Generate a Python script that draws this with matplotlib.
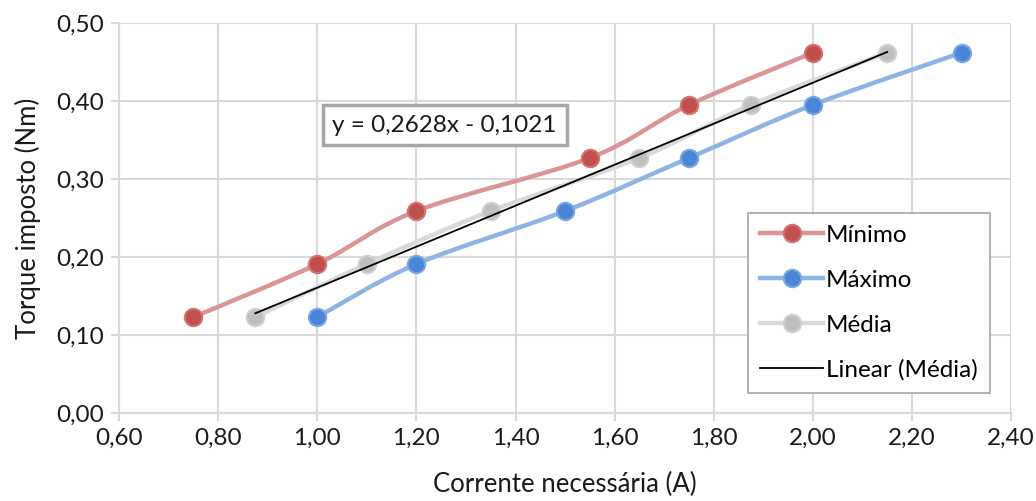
import numpy as np
import matplotlib
matplotlib.use('Agg')
import matplotlib.pyplot as plt
from matplotlib.path import Path
from matplotlib.patches import PathPatch
from matplotlib.lines import Line2D

torque = [0.123, 0.191, 0.259, 0.327, 0.395, 0.462]
corr_min = [0.75, 1.00, 1.20, 1.55, 1.75, 2.00]
corr_max = [1.00, 1.20, 1.50, 1.75, 2.00, 2.30]
corr_med = [0.875, 1.10, 1.35, 1.65, 1.875, 2.15]
fit_a = 0.2628
fit_b = -0.1021
xticks = [0.6, 0.8, 1.0, 1.2, 1.4, 1.6, 1.8, 2.0, 2.2, 2.4]
yticks = [0.0, 0.1, 0.2, 0.3, 0.4, 0.5]

plt.rcParams['font.family'] = ['Lato', 'DejaVu Sans']
GRID = '#d9d9d9'
TXT = '#1a1a1a'


def smooth_path(x, y):
    # Excel-like smoothed line: Catmull-Rom segments as cubic Beziers
    p = np.column_stack([x, y])
    n = len(p)
    verts = [p[0]]
    codes = [Path.MOVETO]
    for i in range(n - 1):
        p0 = p[i - 1] if i > 0 else p[i]
        p3 = p[i + 2] if i + 2 < n else p[i + 1]
        c1 = p[i] + (p[i + 1] - p0) / 6
        c2 = p[i + 1] - (p3 - p[i]) / 6
        verts += [c1, c2, p[i + 1]]
        codes += [Path.CURVE4] * 3
    return Path(verts, codes)


fig = plt.figure(figsize=(10.36, 5.01), dpi=100)
ax = fig.add_axes([0.1149, 0.1756, 0.8611, 0.7784])

series = [
    ('Mínimo', corr_min, '#d99694', '#c0504d', '#d37370'),
    ('Máximo', corr_max, '#8eb4e3', '#4a86d6', '#7aa7e3'),
    ('Média', corr_med, '#d9d9d9', '#bfbfbf', '#d0d0d0'),
]
handles = []
for name, xs, lc, mc, ec in series:
    patch = PathPatch(smooth_path(xs, torque), facecolor='none', edgecolor=lc,
                      lw=3.2, zorder=2, capstyle='round')
    ax.add_patch(patch)
    ax.plot(xs, torque, ls='none', marker='o', ms=12.5, mfc=mc, mec=ec,
            mew=1.5, zorder=3)
    handles.append(Line2D([], [], color=lc, lw=3.2, marker='o', ms=12.5,
                          mfc=mc, mec=ec, mew=1.5, label=name))

xf = np.array([corr_med[0], corr_med[-1]])
ax.plot(xf, fit_a * xf + fit_b, color='black', lw=1.3, zorder=4)
handles.append(Line2D([], [], color='black', lw=1.3, label='Linear (Média)'))

ax.set_xlim(0.6, 2.4)
ax.set_ylim(0.0, 0.5)
ax.set_xticks(xticks)
ax.set_yticks(yticks)
ax.set_xticklabels([f'{v:.2f}'.replace('.', ',') for v in xticks])
ax.set_yticklabels([f'{v:.2f}'.replace('.', ',') for v in yticks])
ax.grid(True, color=GRID, lw=1.5, zorder=0)
ax.set_axisbelow(True)
for s in ['top', 'right']:
    ax.spines[s].set_visible(False)
for s in ['left', 'bottom']:
    ax.spines[s].set_color(GRID)
    ax.spines[s].set_linewidth(1.5)
ax.tick_params(axis='both', length=6, width=1.5, color=GRID, labelsize=17.5,
               labelcolor=TXT, pad=5)

ax.set_xlabel('Corrente necessária (A)', fontsize=18.5, color=TXT, labelpad=16)
ax.set_ylabel('Torque imposto (Nm)', fontsize=18.5, color=TXT, labelpad=11)

ax.text(0.365, 0.738, 'y = 0,2628x - 0,1021', fontsize=17.5, color=TXT,
        ha='center', va='center', transform=ax.transAxes,
        bbox=dict(boxstyle='square,pad=0.4', facecolor='white',
                  edgecolor='#a6a6a6', lw=2.5), zorder=5)

leg = ax.legend(handles=handles, loc='lower left', bbox_to_anchor=(0.705, 0.051),
                borderaxespad=0, fontsize=17.5, frameon=True, fancybox=False,
                edgecolor='#a6a6a6', framealpha=1, handlelength=2.6,
                handletextpad=0.1, labelspacing=0.98, borderpad=0.5)
leg.get_frame().set_linewidth(1.2)
leg.set_zorder(6)

fig.savefig('out.png', dpi=100)
